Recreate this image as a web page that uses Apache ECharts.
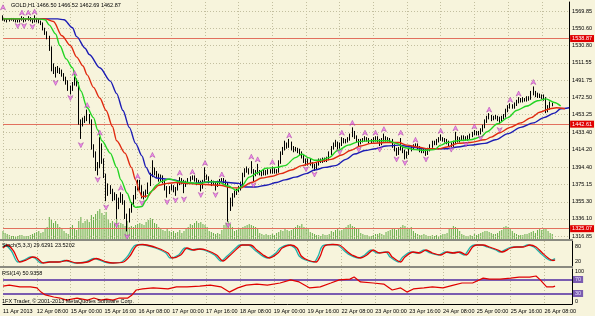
<!DOCTYPE html>
<html><head><meta charset="utf-8">
<script src="https://cdn.jsdelivr.net/npm/echarts@6/dist/echarts.min.js"></script>
<style>html,body{margin:0;padding:0;background:#f7f4dc;}#c{width:595px;height:316px;}</style>
</head><body><div id="c"></div>
<script>
// ---- data ----
const tickLabels = ['11 Apr 2013','12 Apr 08:00','15 Apr 00:00','15 Apr 16:00','16 Apr 08:00','17 Apr 00:00','17 Apr 16:00','18 Apr 08:00','19 Apr 00:00','19 Apr 16:00','22 Apr 08:00','23 Apr 00:00','23 Apr 16:00','24 Apr 08:00','25 Apr 00:00','25 Apr 16:00','26 Apr 08:00'];
const priceTicks = [1569.85,1550.60,1530.80,1511.55,1491.75,1472.50,1453.25,1433.40,1414.20,1394.40,1375.15,1355.30,1336.10,1316.85];
const hLines = [1538.87,1442.61,1325.07];
const lastPrice = 1462.87;
const titleText = 'GOLD,H1 1466.50 1466.52 1462.69 1462.87';
const stochText = 'Stoch(5,3,3) 29.6291 23.5202';
const rsiText = 'RSI(14) 50.9358';
const rsiLevels = [30,70];

const opens = [1561,1561,1560,1559,1560,1561,1560,1559,1558,1560,1562,1559,1560,1562,1560,1558,1561,1560,
1558,1556,1550,1545,1541,1528,1508,1503,1503,1504,1502,1498,1494,1490,1484,1482,1488,1492,
1488,1445,1444,1447,1449,1452,1446,1418,1410,1395,1395,1405,1402,1385,1365,1372,1368,1360,
1362,1350,1357,1362,1355,1340,1335,1345,1352,1360,1370,1378,1372,1365,1362,1366,1375,1385,
1392,1387,1384,1380,1383,1378,1370,1366,1370,1372,1368,1370,1375,1380,1378,1374,1377,1380,
1382,1383,1380,1377,1378,1372,1378,1385,1382,1378,1376,1377,1374,1377,1379,1381,1379,1375,
1355,1352,1362,1365,1368,1370,1375,1385,1390,1392,1389,1391,1386,1388,1390,1388,1387,1389,
1388,1390,1389,1391,1389,1390,1400,1410,1415,1420,1418,1422,1416,1414,1415,1413,1410,1406,
1402,1398,1402,1398,1396,1394,1398,1402,1401,1403,1402,1404,1410,1416,1420,1422,1418,1420,
1425,1423,1424,1426,1430,1434,1428,1424,1422,1424,1425,1426,1425,1423,1424,1425,1427,1424,
1421,1425,1427,1425,1426,1424,1418,1414,1410,1415,1418,1412,1406,1410,1414,1416,1418,1420,
1416,1413,1412,1413,1410,1414,1418,1422,1421,1424,1426,1427,1425,1424,1422,1420,1419,1422,
1427,1424,1426,1428,1427,1426,1428,1430,1432,1434,1432,1433,1436,1440,1446,1450,1452,1449,
1450,1451,1449,1448,1450,1452,1458,1462,1464,1462,1465,1468,1470,1469,1471,1470,1472,1471,
1478,1479,1476,1475,1474,1474,1472,1462,1460,1466.5];
const closes = [1561,1560,1559,1560,1561,1560,1559,1558,1560,1562,1559,1560,1562,1560,1558,1561,1560,1558,
1556,1550,1545,1541,1528,1508,1503,1503,1504,1502,1498,1494,1490,1484,1482,1488,1492,1488,
1445,1444,1447,1449,1452,1446,1418,1410,1395,1395,1405,1402,1385,1365,1372,1368,1360,1362,
1350,1357,1362,1355,1340,1335,1345,1352,1360,1370,1378,1372,1365,1362,1366,1375,1385,1392,
1387,1384,1380,1383,1378,1370,1366,1370,1372,1368,1370,1375,1380,1378,1374,1377,1380,1382,
1383,1380,1377,1378,1372,1378,1385,1382,1378,1376,1377,1374,1377,1379,1381,1379,1375,1355,
1352,1362,1365,1368,1370,1375,1385,1390,1392,1389,1391,1386,1388,1390,1388,1387,1389,1388,
1390,1389,1391,1389,1390,1400,1410,1415,1420,1418,1422,1416,1414,1415,1413,1410,1406,1402,
1398,1402,1398,1396,1394,1398,1402,1401,1403,1402,1404,1410,1416,1420,1422,1418,1420,1425,
1423,1424,1426,1430,1434,1428,1424,1422,1424,1425,1426,1425,1423,1424,1425,1427,1424,1421,
1425,1427,1425,1426,1424,1418,1414,1410,1415,1418,1412,1406,1410,1414,1416,1418,1420,1416,
1413,1412,1413,1410,1414,1418,1422,1421,1424,1426,1427,1425,1424,1422,1420,1419,1422,1427,
1424,1426,1428,1427,1426,1428,1430,1432,1434,1432,1433,1436,1440,1446,1450,1452,1449,1450,
1451,1449,1448,1450,1452,1458,1462,1464,1462,1465,1468,1470,1469,1471,1470,1472,1471,1478,
1479,1476,1475,1474,1474,1472,1462,1460,1466.5,1462.87];
const highs = [1565,1562,1561,1561,1562,1562,1561,1560,1561,1564,1563,1561,1564,1563,1561,1565,1562,1561,
1559,1557,1551,1547,1542,1530,1511,1507,1508,1506,1504,1500,1496,1492,1486,1490,1496,1494,
1490,1448,1450,1452,1459,1454,1448,1420,1412,1400,1428,1421,1404,1387,1376,1374,1370,1366,
1364,1360,1366,1364,1357,1342,1348,1355,1363,1373,1380,1380,1374,1367,1369,1377,1388,1402,
1394,1390,1387,1386,1385,1380,1373,1373,1375,1374,1372,1378,1383,1382,1380,1379,1382,1384,
1385,1385,1382,1380,1379,1380,1394,1386,1384,1380,1379,1378,1379,1381,1382,1382,1380,1377,
1360,1365,1368,1370,1373,1378,1388,1393,1395,1393,1401,1392,1391,1398,1391,1390,1392,1391,
1392,1392,1395,1393,1392,1402,1412,1417,1424,1422,1426,1423,1418,1417,1416,1415,1412,1408,
1404,1404,1404,1400,1398,1400,1404,1404,1405,1405,1406,1412,1418,1422,1425,1423,1422,1428,
1427,1426,1428,1432,1439,1435,1430,1426,1426,1427,1429,1428,1427,1426,1428,1429,1429,1426,
1427,1432,1429,1428,1427,1426,1420,1416,1417,1427,1419,1414,1412,1416,1418,1420,1421,1421,
1418,1415,1415,1415,1416,1420,1424,1424,1426,1428,1431,1428,1427,1426,1424,1422,1424,1434,
1429,1428,1430,1430,1429,1430,1432,1434,1436,1435,1435,1438,1442,1448,1452,1455,1453,1452,
1453,1452,1451,1452,1454,1460,1464,1466,1465,1467,1470,1473,1472,1473,1472,1474,1474,1480,
1485,1480,1478,1477,1476,1476,1473,1464,1468,1466.52];
const lows = [1559,1558,1557,1558,1559,1558,1557,1557,1557,1559,1557,1558,1559,1558,1556,1557,1557,1556,
1554,1548,1543,1538,1525,1502,1499,1495,1500,1499,1496,1491,1487,1480,1476,1480,1486,1485,
1442,1426,1440,1444,1446,1443,1414,1405,1390,1385,1393,1398,1382,1356,1362,1364,1356,1357,
1336,1347,1354,1352,1336,1322,1332,1343,1350,1358,1368,1368,1359,1358,1360,1364,1373,1383,
1385,1382,1378,1378,1376,1368,1360,1364,1368,1366,1362,1368,1374,1375,1365,1372,1375,1378,
1380,1378,1374,1375,1367,1370,1377,1380,1376,1373,1374,1368,1372,1375,1378,1376,1372,1333,
1345,1350,1360,1363,1366,1368,1373,1383,1388,1386,1387,1378,1384,1386,1385,1384,1385,1385,
1386,1387,1387,1387,1387,1388,1398,1408,1413,1415,1416,1413,1411,1412,1410,1408,1404,1399,
1396,1396,1396,1393,1390,1392,1396,1399,1399,1400,1400,1402,1408,1414,1417,1414,1415,1418,
1421,1421,1422,1424,1428,1426,1422,1418,1420,1422,1423,1423,1421,1421,1422,1423,1422,1418,
1419,1423,1423,1423,1422,1416,1412,1407,1408,1413,1410,1403,1404,1408,1412,1414,1416,1414,
1411,1410,1410,1407,1408,1412,1416,1419,1419,1422,1424,1423,1422,1420,1418,1417,1417,1420,
1422,1422,1424,1425,1424,1424,1426,1428,1430,1430,1430,1431,1434,1438,1444,1448,1446,1447,
1448,1446,1443,1446,1448,1450,1456,1460,1460,1460,1463,1466,1467,1467,1468,1468,1469,1470,
1475,1473,1472,1472,1471,1469,1455,1456,1459,1462.69];
const volumes = [8,6,5,4,3,3,2,3, 4,4,3,3,3,4,5,6, 7,8,6,7,10,12, 22,20,16,18,15,12, 10,8,6,5,
12,14,10,9,18,22, 16,18,20,17,24,22, 25,28,30,26,24,27, 20,16,18,15,20,14,
16,15,13,18,12,13, 12,14,15,16,15,14, 17,19,21,20,16,15, 12,10,9,8,11,8,
7,8,6,7,9,6, 8,10,12,15,14,16, 18,16,17,15,14,12, 8,7,6,5,6,5,
9,14,16,18,15,12, 8,9,10,11,12,13, 14,15,14,13,12,10, 6,5,4,5,4,4,
5,4,6,7,9,8, 10,9,8,9,11,12, 14,13,15,12,11,10, 7,6,5,4,4,3,
5,4,4,5,8,7, 9,10,8,9,11,12, 14,15,13,12,11,10, 6,5,4,4,3,3,
4,5,5,6,5,4, 7,8,9,10,11,9, 10,12,14,13,11,10, 12,8,6,5,4,4,
5,4,3,3,4,3, 4,3,4,5,5,6, 10,11,13,12,10,8, 5,4,3,3,4,3,
5,4,5,6,7,8, 8,7,6,5,5,6, 8,9,12,13,12,11, 8,6,5,4,4,4,
5,5,6,7,8,6, 9,10,9,11,10,8, 6,5];

const lipsIdx = [0,10,17,20,22,25,27,30,33,35,37,40,43,45,47,51,54,56,59,61,63,66,68,70,73,75,79,84,88,93,98,103,107,111,113,117,121,125,130,134,139,142,145,148,151,155,159,164,169,175,183,187,191,196,200,205,208,211,216,222,227,230,235,240,244,249,254,258,262,265];
const lipsVal = [1561,1561,1561,1560,1554,1544,1531,1516,1506,1492,1480,1461,1450,1436,1424,1410,1394,1380,1365,1354,1349,1350,1357,1366,1374,1378,1381,1378,1377,1376,1378,1377,1373,1368,1372,1383,1388,1393,1394,1396,1405,1409,1405,1402,1402,1405,1413,1419,1423,1424,1424,1421,1416,1414,1413,1414,1419,1422,1424,1425,1428,1434,1443,1450,1458,1463,1469,1471,1467,1463];
const teethIdx = [0,10,20,24,28,32,35,38,40,43,46,49,52,54,58,61,63,65,66,69,71,74,78,82,87,93,103,109,113,118,123,128,132,137,142,147,151,156,161,165,170,175,182,188,192,197,202,207,211,216,222,229,232,236,241,246,251,255,260,263,267];
const teethVal = [1561,1561,1561,1558,1542,1531,1518,1508,1498,1484,1472,1458,1440,1424,1410,1394,1380,1366,1361,1362,1368,1374,1376,1377,1376,1375,1374,1371,1371,1377,1382,1384,1387,1391,1396,1399,1401,1403,1408,1413,1418,1421,1422,1422,1419,1417,1415,1415,1417,1421,1422,1425,1428,1433,1439,1444,1450,1456,1460,1461,1460];
const jawIdx = [0,20,26,29,33,35,39,41,46,51,54,57,60,63,66,68,70,73,77,81,86,91,95,101,107,112,115,120,125,130,134,139,144,148,153,158,163,167,172,177,182,188,194,200,207,211,216,222,229,234,240,246,252,257,262,265,269];
const jawVal = [1561,1561,1561,1560,1551,1541,1528,1521,1506,1491,1477,1458,1439,1421,1407,1394,1386,1382,1381,1380,1377,1376,1377,1378,1377,1376,1372,1372,1374,1377,1380,1383,1387,1391,1394,1396,1403,1409,1413,1415,1418,1419,1417,1415,1415,1415,1417,1419,1421,1425,1432,1439,1444,1450,1455,1460,1461];

const fracUpIdx = [0,9,12,15,34,40,46,56,64,71,84,90,96,104,118,121,128,136,161,166,172,177,181,189,196,208,215,224,231,241,245,252];
const fracUpVal = [1574,1568,1568,1569,1500,1464,1433,1371,1384,1408,1388,1389,1399,1386,1406,1403,1400,1430,1433,1444,1433,1433,1437,1433,1425,1435,1438,1440,1459,1470,1477,1490];
const fracDnIdx = [7,10,14,25,32,37,45,49,54,59,66,78,82,86,94,101,107,119,144,148,160,169,179,187,191,201,213,220,227,236];
const fracDnVal = [1553,1553,1552,1489,1472,1419,1380,1349,1329,1316,1354,1355,1357,1358,1363,1363,1329,1374,1392,1386,1411,1414,1414,1403,1399,1403,1414,1420,1427,1436];

const stochDIdx = [0,2,5,8,11,14,16,19,22,27,30,35,40,44,49,52,57,60,63,66,68,73,78,80,84,87,90,93,96,101,104,107,111,113,117,120,123,126,130,132,136,139,141,144,148,150,152,156,159,163,165,169,172,175,178,182,184,188,190,194,197,200,203,207,210,213,216,219,222,224,227,230,234,236,240,243,246,249,252,255,258,260,261];
const stochDVal = [72,84,60,16,24,36,32,12,16,16,22,12,16,30,16,12,16,40,80,86,84,72,52,32,44,72,64,68,64,44,20,40,72,84,84,64,44,32,52,72,84,72,40,24,16,40,80,86,84,56,44,32,44,64,52,56,36,16,36,56,52,64,52,44,56,52,56,44,76,84,84,76,64,56,72,76,76,84,76,52,30,22,23.52];
const stochKIdx = [0,1,4,7,10,13,15,18,21,26,29,34,39,43,48,51,56,59,62,65,67,72,77,79,83,86,89,92,95,100,103,106,110,112,116,119,122,125,129,131,135,138,140,143,147,149,151,155,158,162,164,168,171,174,177,181,183,187,189,193,196,199,202,206,209,212,215,218,221,223,226,229,233,235,239,242,245,248,251,254,257,259,261];
const stochKVal = [72,84,60,16,24,36,32,12,16,16,22,12,16,30,16,12,16,40,80,86,84,72,52,32,44,72,64,68,64,44,20,40,72,84,84,64,44,32,52,72,84,72,40,24,16,40,80,86,84,56,44,32,44,64,52,56,36,16,36,56,52,64,52,44,56,52,56,44,76,84,84,76,64,56,72,76,76,84,76,52,30,22,29.63];

const rsiIdx = [0,3,8,13,16,18,20,24,27,30,35,40,43,46,49,52,55,59,61,63,66,71,78,82,87,93,98,103,107,111,115,120,125,131,136,140,145,150,155,159,164,166,169,175,180,184,188,191,194,199,203,208,213,217,222,227,230,235,240,244,249,252,254,257,260,261];
const rsiVal = [51,54,49,49,46,34,26,20,17,11,17,11,17,11,14,11,17,17,26,40,43,46,43,49,49,51,54,49,34,46,54,57,54,60,69,63,46,49,60,69,71,77,63,60,57,40,46,34,43,46,49,46,54,60,60,74,71,71,74,77,77,80,69,49,49,50.94];

// ---- chart ----
const NCAT = 270;
const cats = Array.from({length: NCAT}, (_, i) => String(i));
const pairs = (ix, vs) => ix.map((x, k) => [x, vs[k]]);
const FONT = 'Liberation Sans';
const FS = 5.5;
const gridCol = '#c3bf9f';
const bg = '#f7f4dc';

const chart = echarts.init(document.getElementById('c'), null, {renderer: 'canvas'});

const xAx = (g) => ({
  type: 'category', gridIndex: g, data: cats, boundaryGap: false,
  axisLine: {show: g === 2, lineStyle: {color: '#000', width: 1}},
  axisTick: {show: false},
  axisLabel: g === 2 ? {
    interval: (i) => i % 16 === 0 && i <= 256,
    formatter: (v, i) => tickLabels[i / 16] || '',
    align: 'left', fontSize: FS, fontFamily: FONT, color: '#000', margin: 4
  } : {show: false},
  splitLine: {show: true, interval: (i) => i % 16 === 0, lineStyle: {color: gridCol, type: [1, 2], width: 1}}
});

const option = {
  animation: false,
  backgroundColor: bg,
  grid: [
    {left: 3, right: 23, top: 2, height: 237},
    {left: 3, right: 23, top: 241, height: 25},
    {left: 3, right: 23, top: 269, height: 35}
  ],
  xAxis: [xAx(0), xAx(1), xAx(2)],
  yAxis: [
    {type: 'value', gridIndex: 0, position: 'right', min: 1313.48, max: 1579.97, scale: true,
     axisLine: {show: true, lineStyle: {color: '#000'}}, axisTick: {show: false}, splitLine: {show: false},
     axisLabel: {customValues: priceTicks, formatter: (v) => v.toFixed(2), fontSize: FS, fontFamily: FONT, color: '#000', margin: 3}},
    {type: 'value', gridIndex: 0, min: 0, max: 237, show: false},
    {type: 'value', gridIndex: 1, position: 'right', min: 0, max: 100,
     axisLine: {show: true, lineStyle: {color: '#000'}}, axisTick: {show: false}, splitLine: {show: false},
     axisLabel: {customValues: [88, 80, 20, 12], formatter: (v) => ({88: '100', 80: '80', 20: '20', 12: '0'})[v] || '',
       fontSize: FS, fontFamily: FONT, color: '#000', margin: 3}},
    {type: 'value', gridIndex: 2, position: 'right', min: 0, max: 100,
     axisLine: {show: true, lineStyle: {color: '#000'}}, axisTick: {show: false}, splitLine: {show: false},
     axisLabel: {customValues: [92, 6], formatter: (v) => ({92: '100', 6: '0'})[v] || '',
       fontSize: FS, fontFamily: FONT, color: '#000', margin: 3}}
  ],
  series: [
    {type: 'line', xAxisIndex: 0, yAxisIndex: 0, data: [], silent: true, z: 1,
     markLine: {silent: true, symbol: ['none', 'none'], animation: false, label: {show: false},
       lineStyle: {color: gridCol, type: [1, 2], width: 1},
       data: priceTicks.map(v => ({yAxis: v}))}},
    {type: 'bar', xAxisIndex: 0, yAxisIndex: 1, data: volumes, barWidth: 1, silent: true, z: 2,
     itemStyle: {color: '#66ad48'}},
    {type: 'line', xAxisIndex: 0, yAxisIndex: 0, data: [], silent: true, z: 3,
     markLine: {silent: true, symbol: ['none', 'none'], animation: false,
       lineStyle: {color: '#e2705e', type: 'solid', width: 1},
       label: {show: true, position: 'end', distance: 1, formatter: (p) => p.value.toFixed(2),
         backgroundColor: '#e00000', color: '#fff', fontSize: FS, fontFamily: FONT, padding: [1, 2, 0, 2]},
       data: hLines.map(v => ({yAxis: v}))}},
    {type: 'line', xAxisIndex: 0, yAxisIndex: 0, data: [], silent: true, z: 3,
     markLine: {silent: true, symbol: ['none', 'none'], animation: false,
       lineStyle: {opacity: 0},
       label: {show: true, position: 'end', distance: 1, formatter: (p) => p.value.toFixed(2),
         backgroundColor: '#000', color: '#fff', fontSize: FS, fontFamily: FONT, padding: [1, 2, 0, 2]},
       data: [{yAxis: lastPrice}]}},
    {type: 'candlestick', xAxisIndex: 0, yAxisIndex: 0, silent: true, z: 5, barWidth: 1,
     data: closes.map((c, i) => [opens[i], c, lows[i], highs[i]]),
     itemStyle: {color: '#ffffff', color0: '#000000', borderColor: '#000000', borderColor0: '#000000', borderWidth: 1}},
    {type: 'line', xAxisIndex: 0, yAxisIndex: 0, data: pairs(jawIdx, jawVal), smooth: 0.3, smoothMonotone: 'x',
     showSymbol: false, silent: true, z: 6, lineStyle: {color: '#1c1cb4', width: 1.4}},
    {type: 'line', xAxisIndex: 0, yAxisIndex: 0, data: pairs(teethIdx, teethVal), smooth: 0.3, smoothMonotone: 'x',
     showSymbol: false, silent: true, z: 6, lineStyle: {color: '#e02a10', width: 1.4}},
    {type: 'line', xAxisIndex: 0, yAxisIndex: 0, data: pairs(lipsIdx, lipsVal), smooth: 0.3, smoothMonotone: 'x',
     showSymbol: false, silent: true, z: 6, lineStyle: {color: '#22d422', width: 1.4}},
    {type: 'scatter', xAxisIndex: 0, yAxisIndex: 0, data: pairs(fracUpIdx, fracUpVal), silent: true, z: 7,
     symbol: 'path://M5,0 L10,10 L5,7 L0,10 Z', symbolSize: [5, 5],
     itemStyle: {color: '#f07af0', borderColor: '#a030a0', borderWidth: 0.6}},
    {type: 'scatter', xAxisIndex: 0, yAxisIndex: 0, data: pairs(fracDnIdx, fracDnVal), silent: true, z: 7,
     symbol: 'path://M0,0 L5,3 L10,0 L5,10 Z', symbolSize: [5, 5],
     itemStyle: {color: '#f07af0', borderColor: '#a030a0', borderWidth: 0.6}},
    {type: 'line', xAxisIndex: 1, yAxisIndex: 2, data: pairs(stochKIdx, stochKVal), smooth: 0.3,
     showSymbol: false, silent: true, z: 5, lineStyle: {color: '#20b2aa', width: 1.3}},
    {type: 'line', xAxisIndex: 1, yAxisIndex: 2, data: pairs(stochDIdx, stochDVal), smooth: 0.3,
     showSymbol: false, silent: true, z: 6, lineStyle: {color: '#e00000', width: 1.3}},
    {type: 'line', xAxisIndex: 2, yAxisIndex: 3, data: pairs(rsiIdx, rsiVal),
     showSymbol: false, silent: true, z: 6, lineStyle: {color: '#e00000', width: 1.2},
     markLine: {silent: true, symbol: ['none', 'none'], animation: false,
       lineStyle: {color: '#7a5cb0', type: 'solid', width: 2},
       label: {show: true, position: 'end', distance: 1, formatter: (p) => String(p.value),
         backgroundColor: '#7a5cb0', color: '#e8e0ff', fontSize: FS, fontFamily: FONT, padding: [1, 2, 0, 2]},
       data: rsiLevels.map(v => ({yAxis: v}))}}
  ],
  graphic: [
    {type: 'rect', left: 0, top: 239, shape: {width: 573, height: 2}, style: {fill: '#8a8a80'}, silent: true, z: 50},
    {type: 'rect', left: 0, top: 266, shape: {width: 573, height: 2}, style: {fill: '#8a8a80'}, silent: true, z: 50},
    {type: 'text', left: 11, top: 2, style: {text: titleText, fontSize: FS, fontFamily: FONT, fill: '#000'}, silent: true, z: 50},
    {type: 'text', left: 2, top: 242, style: {text: stochText, fontSize: FS, fontFamily: FONT, fill: '#000'}, silent: true, z: 50},
    {type: 'text', left: 2, top: 270, style: {text: rsiText, fontSize: FS, fontFamily: FONT, fill: '#000'}, silent: true, z: 50},
    {type: 'text', left: 2, top: 298, style: {text: '1FX Trader, \u00a9 2001-2013 MetaQuotes Software Corp.', fontSize: FS, fontFamily: FONT, fill: '#000'}, silent: true, z: 50}
  ]
};
chart.setOption(option);
</script>
</body></html>
